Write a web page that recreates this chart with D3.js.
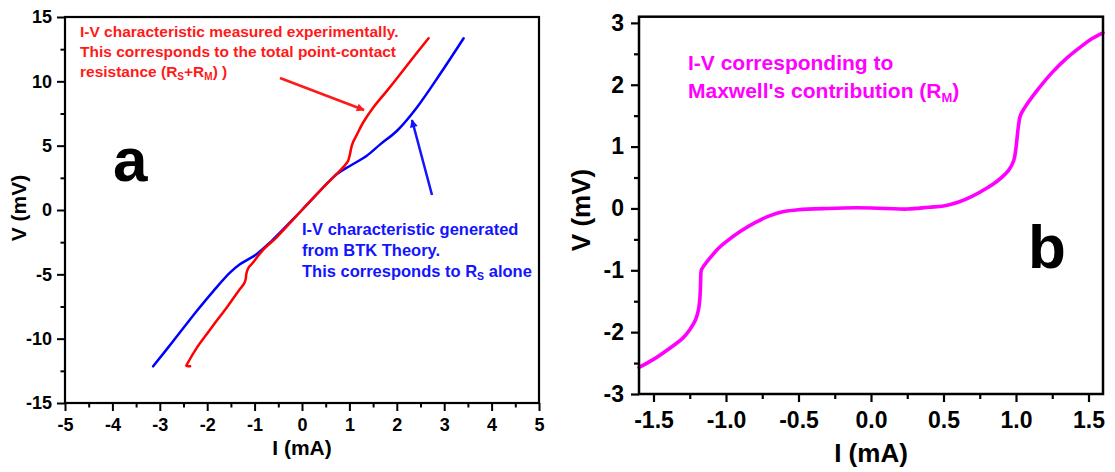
<!DOCTYPE html>
<html>
<head>
<meta charset="utf-8">
<script src="https://cdn.jsdelivr.net/npm/d3@7"></script>
<style>
  html, body { margin: 0; padding: 0; background: #ffffff; }
  svg { display: block; font-family: "Liberation Sans", Arial, sans-serif; font-weight: bold; }
</style>
</head>
<body>
<svg id="chart" width="1115" height="472"></svg>
<script>
// ---- Panel a: measured I-V (Rs + RM) ----
const measuredI = [-2.36, -2.44, -2.42, -2.2, -2.0, -1.8, -1.59, -1.4, -1.3, -1.22, -1.19, -1.17, -1.13, -1.06,
  -0.82, -0.53, 0, 0.5, 0.73, 0.9, 0.97, 1.01, 1.04, 1.08, 1.15, 1.29, 1.5, 1.8, 2.07, 2.4, 2.67];
const measuredV = [-12.15, -12.1, -11.95, -10.6, -9.6, -8.6, -7.6, -6.6, -6.1, -5.7, -5.4, -4.9, -4.5, -4.2,
  -3.1, -2.1, 0, 1.95, 2.8, 3.45, 3.8, 4.3, 4.85, 5.3, 5.8, 6.8, 7.95, 9.3, 10.55, 12.1, 13.35];

// ---- Panel a: BTK-generated I-V (Rs alone) ----
const btkI = [-3.14, -2.72, -2.22, -1.87, -1.52, -1.31, -0.96, -0.68, 0, 0.73, 1.01, 1.36, 1.65, 2.0, 2.42, 2.91, 3.41];
const btkV = [-12.15, -10.2, -7.85, -6.3, -4.87, -4.22, -3.44, -2.54, 0, 2.77, 3.42, 4.2, 5.1, 6.14, 7.95, 10.55, 13.35];

// ---- Panel b: Maxwell contribution (RM) ----
const maxwellI = [-1.6, -1.5, -1.4, -1.3, -1.25, -1.21, -1.19, -1.18, -1.175, -1.17, -1.15, -1.11, -1.05, -1.0,
  -0.9, -0.8, -0.7, -0.6, -0.5, -0.3, -0.1, 0.1, 0.25, 0.4, 0.5, 0.6, 0.7, 0.8, 0.88, 0.95, 0.985, 1.0, 1.015,
  1.03, 1.06, 1.15, 1.25, 1.35, 1.45, 1.52, 1.6];
const maxwellV = [-2.57, -2.44, -2.28, -2.1, -1.96, -1.8, -1.64, -1.45, -1.2, -1.0, -0.92, -0.8, -0.64, -0.54,
  -0.37, -0.23, -0.12, -0.05, -0.02, 0.0, 0.01, 0.0, -0.01, 0.02, 0.04, 0.1, 0.2, 0.33, 0.46, 0.62, 0.78, 0.98, 1.3,
  1.5, 1.63, 1.92, 2.2, 2.43, 2.62, 2.74, 2.84];

// ---- Tick values ----
const ticksAx = [-5, -4, -3, -2, -1, 0, 1, 2, 3, 4, 5];
const minorAx = [-4.5, -3.5, -2.5, -1.5, -0.5, 0.5, 1.5, 2.5, 3.5, 4.5];
const ticksAy = [-15, -10, -5, 0, 5, 10, 15];
const minorAy = [-12.5, -7.5, -2.5, 2.5, 7.5, 12.5];
const ticksBx = [-1.5, -1.0, -0.5, 0.0, 0.5, 1.0, 1.5];
const minorBx = [-1.25, -0.75, -0.25, 0.25, 0.75, 1.25];
const ticksBy = [-3, -2, -1, 0, 1, 2, 3];
const minorBy = [-2.5, -1.5, -0.5, 0.5, 1.5, 2.5];

const svg = d3.select("#chart");
svg.append("rect").attr("width", 1115).attr("height", 472).attr("fill", "#ffffff");

const defs = svg.append("defs");
function arrowMarker(id, color) {
  defs.append("marker")
    .attr("id", id)
    .attr("viewBox", "0 0 10 10")
    .attr("refX", 9).attr("refY", 5)
    .attr("markerUnits", "userSpaceOnUse")
    .attr("markerWidth", 11).attr("markerHeight", 8)
    .attr("orient", "auto")
    .append("path").attr("d", "M0,0 L10,5 L0,10 Z").attr("fill", color);
}
arrowMarker("headRed", "#ff1a1a");
arrowMarker("headBlue", "#1414ff");

// Draws frame, major/minor ticks and labels for one panel
function drawAxes(g, x, y, o) {
  const [x0, x1] = x.range();
  const [y0, y1] = y.range();
  const xa = g.append("g").attr("transform", `translate(0,${y0})`)
    .call(d3.axisBottom(x).tickValues(o.xt).tickSize(o.major).tickPadding(o.xpad).tickFormat(o.xf));
  const xm = g.append("g").attr("transform", `translate(0,${y0})`)
    .call(d3.axisBottom(x).tickValues(o.xm).tickSize(o.minor).tickFormat(""));
  const ya = g.append("g").attr("transform", `translate(${x0},0)`)
    .call(d3.axisLeft(y).tickValues(o.yt).tickSize(o.major).tickPadding(o.ypad).tickFormat(o.yf));
  const ym = g.append("g").attr("transform", `translate(${x0},0)`)
    .call(d3.axisLeft(y).tickValues(o.ym).tickSize(o.minor).tickFormat(""));
  [xa, xm, ya, ym].forEach(a => {
    a.select(".domain").remove();
    a.selectAll(".tick line").attr("stroke", "#000").attr("stroke-width", o.tickW);
    a.selectAll("text").attr("font-family", "Liberation Sans, Arial, sans-serif")
      .attr("font-weight", "bold").attr("font-size", o.fs).attr("fill", "#000");
  });
  g.append("rect")
    .attr("x", x0).attr("y", y1).attr("width", x1 - x0).attr("height", y0 - y1)
    .attr("fill", "none").attr("stroke", "#000").attr("stroke-width", o.frameW);
}

function curve(g, x, y, xs, ys, color, width) {
  const pts = xs.map((v, i) => [v, ys[i]]);
  g.append("path")
    .datum(pts)
    .attr("fill", "none").attr("stroke", color).attr("stroke-width", width)
    .attr("stroke-linejoin", "round").attr("stroke-linecap", "round")
    .attr("d", d3.line().x(d => x(d[0])).y(d => y(d[1])).curve(d3.curveCatmullRom.alpha(0.5)));
}

// ================= Panel a =================
const gA = svg.append("g");
const xA = d3.scaleLinear().domain([-5, 5]).range([65, 539]);
const yA = d3.scaleLinear().domain([-15, 15]).range([403, 17]);

curve(gA, xA, yA, btkI, btkV, "#0000ff", 2.5);
curve(gA, xA, yA, measuredI, measuredV, "#ff0000", 2.5);

drawAxes(gA, xA, yA, {
  xt: ticksAx, xm: minorAx, yt: ticksAy, ym: minorAy,
  major: 8, minor: 4.5, xpad: 7, ypad: 5, tickW: 2, frameW: 2.2, fs: 18,
  xf: d => String(d), yf: d => String(d)
});

gA.append("text").attr("x", 302).attr("y", 455).attr("text-anchor", "middle")
  .attr("font-size", 21).text("I (mA)");
gA.append("text").attr("transform", "translate(26,208) rotate(-90)").attr("text-anchor", "middle")
  .attr("font-size", 21).text("V (mV)");

gA.append("text").attr("x", 113).attr("y", 181).attr("font-size", 62).text("a");

// annotation for the measured curve
const redNote = gA.append("text").attr("fill", "#ff1a1a").attr("font-size", 15.5);
redNote.append("tspan").attr("x", 80).attr("y", 37).text("I-V characteristic measured experimentally.");
redNote.append("tspan").attr("x", 80).attr("y", 57).text("This corresponds to the total point-contact");
redNote.append("tspan").attr("x", 80).attr("y", 77).text("resistance (R");
redNote.append("tspan").attr("font-size", 10).attr("dy", 3).text("S");
redNote.append("tspan").attr("dy", -3).text("+R");
redNote.append("tspan").attr("font-size", 10).attr("dy", 3).text("M");
redNote.append("tspan").attr("dy", -3).text(") )");

gA.append("line").attr("x1", 280).attr("y1", 78).attr("x2", 364).attr("y2", 110)
  .attr("stroke", "#ff1a1a").attr("stroke-width", 2.5).attr("marker-end", "url(#headRed)");

// annotation for the BTK curve
const blueNote = gA.append("text").attr("fill", "#1414ff").attr("font-size", 16.5);
blueNote.append("tspan").attr("x", 302).attr("y", 235).text("I-V characteristic generated");
blueNote.append("tspan").attr("x", 302).attr("y", 256).text("from BTK Theory.");
blueNote.append("tspan").attr("x", 302).attr("y", 277).text("This corresponds to R");
blueNote.append("tspan").attr("font-size", 10.5).attr("dy", 3).text("S");
blueNote.append("tspan").attr("dy", -3).text(" alone");

gA.append("line").attr("x1", 432).attr("y1", 195).attr("x2", 412).attr("y2", 120)
  .attr("stroke", "#1414ff").attr("stroke-width", 2.5).attr("marker-end", "url(#headBlue)");

// ================= Panel b =================
const gB = svg.append("g");
const xB = d3.scaleLinear().domain([-1.6, 1.6]).range([639, 1103]);
const yB = d3.scaleLinear().domain([-3, 3.1]).range([394, 16.7]);

curve(gB, xB, yB, maxwellI, maxwellV, "#ff00ff", 3.6);

drawAxes(gB, xB, yB, {
  xt: ticksBx, xm: minorBx, yt: ticksBy, ym: minorBy,
  major: 8, minor: 5, xpad: 10, ypad: 7, tickW: 2.2, frameW: 2.5, fs: 23,
  xf: d => d.toFixed(1), yf: d => String(d)
});

gB.append("text").attr("x", 871).attr("y", 462).attr("text-anchor", "middle")
  .attr("font-size", 26).text("I (mA)");
gB.append("text").attr("transform", "translate(590,210) rotate(-90)").attr("text-anchor", "middle")
  .attr("font-size", 26).text("V (mV)");

gB.append("text").attr("x", 1028).attr("y", 268).attr("font-size", 62).text("b");

const magNote = gB.append("text").attr("fill", "#ff00ff").attr("font-size", 21);
magNote.append("tspan").attr("x", 688).attr("y", 70).text("I-V corresponding to");
magNote.append("tspan").attr("x", 688).attr("y", 98).text("Maxwell's contribution (R");
magNote.append("tspan").attr("font-size", 13).attr("dy", 4).text("M");
magNote.append("tspan").attr("dy", -4).text(")");
</script>
</body>
</html>
